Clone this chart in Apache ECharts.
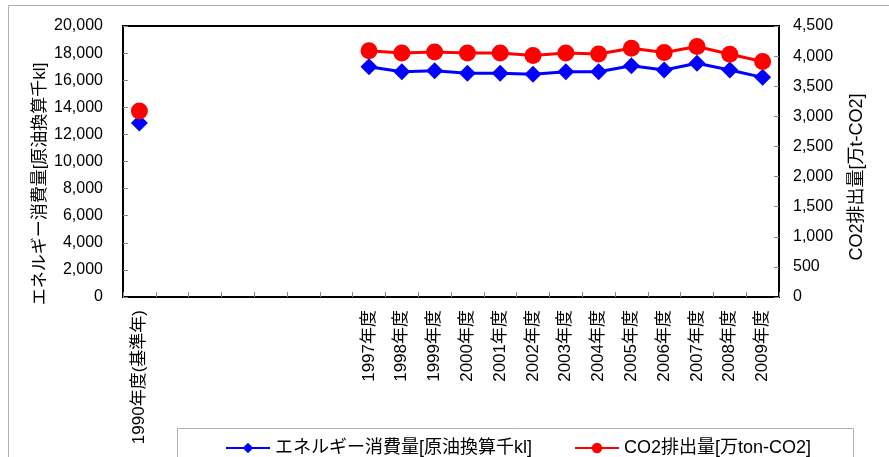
<!DOCTYPE html>
<html>
<head>
<meta charset="utf-8">
<script src="https://cdn.jsdelivr.net/npm/echarts@6/dist/echarts.min.js"></script>
<style>
  html, body { margin: 0; padding: 0; background: #fff; }
  #chart { width: 889px; height: 457px; }
</style>
</head>
<body>
<div id="chart"></div>
<script>
// Fiscal years (1991-1996 are blank slots on the axis)
const categories = [
  '1990年度(基準年)', '', '', '', '', '', '',
  '1997年度', '1998年度', '1999年度', '2000年度', '2001年度', '2002年度',
  '2003年度', '2004年度', '2005年度', '2006年度', '2007年度', '2008年度', '2009年度'
];

// Energy consumption [crude-oil equivalent, thousand kl]
const energyUse = [
  12850, null, null, null, null, null, null,
  17000, 16630, 16700, 16510, 16510, 16440,
  16630, 16630, 17070, 16750, 17250, 16750, 16210
];

// CO2 emissions [10,000 t-CO2]
const co2Emission = [
  3090, null, null, null, null, null, null,
  4090, 4050, 4070, 4050, 4050, 4010,
  4050, 4035, 4130, 4060, 4160, 4030, 3910
];

const seriesNames = ['エネルギー消費量[原油換算千kl]', 'CO2排出量[万ton-CO2]'];
const leftAxisTitle = 'エネルギー消費量[原油換算千kl]';
const rightAxisTitle = 'CO2排出量[万t-CO2]';

const FONT = '"Liberation Sans", "Noto Sans CJK JP", sans-serif';
const fmt = v => String(v).replace(/\B(?=(\d{3})+(?!\d))/g, ',');

const chart = echarts.init(document.getElementById('chart'), null, { renderer: 'canvas' });

chart.setOption({
  backgroundColor: '#ffffff',
  animation: false,
  textStyle: { fontFamily: FONT },
  grid: {
    left: 123, right: 110, top: 26, bottom: 160,
    show: true, borderColor: '#000', borderWidth: 2, backgroundColor: 'transparent'
  },
  legend: {
    data: seriesNames,
    left: 220, top: 434,
    itemWidth: 44, itemHeight: 13, itemGap: 42,
    textStyle: { fontFamily: FONT, fontSize: 18, color: '#000' }
  },
  xAxis: {
    type: 'category',
    data: categories,
    boundaryGap: true,
    axisLine: { show: true, lineStyle: { color: '#000', width: 2 } },
    axisTick: { show: true, inside: true, length: 5, interval: 0, lineStyle: { color: '#888' } },
    axisLabel: { interval: 0, rotate: 90, margin: 13, fontSize: 17, color: '#000', fontFamily: FONT },
    splitLine: { show: false }
  },
  yAxis: [
    {
      type: 'value', min: 0, max: 20000, interval: 2000,
      axisLine: { show: true, lineStyle: { color: '#000', width: 2 } },
      axisTick: { show: true, inside: true, length: 5, lineStyle: { color: '#888' } },
      axisLabel: { margin: 20, fontSize: 16, color: '#000', fontFamily: FONT, formatter: fmt },
      splitLine: { show: false }
    },
    {
      type: 'value', min: 0, max: 4500, interval: 500,
      position: 'right',
      axisLine: { show: true, lineStyle: { color: '#000', width: 2 } },
      axisTick: { show: true, inside: true, length: 5, lineStyle: { color: '#888' } },
      axisLabel: { margin: 14, fontSize: 16, color: '#000', fontFamily: FONT, formatter: fmt },
      splitLine: { show: false }
    }
  ],
  series: [
    {
      name: seriesNames[0],
      type: 'line',
      yAxisIndex: 0,
      data: energyUse,
      symbol: 'diamond',
      symbolSize: 17,
      showAllSymbol: true,
      connectNulls: false,
      itemStyle: { color: '#0000FF' },
      lineStyle: { color: '#0000FF', width: 3 },
      z: 2
    },
    {
      name: seriesNames[1],
      type: 'line',
      yAxisIndex: 1,
      data: co2Emission,
      symbol: 'circle',
      symbolSize: 17,
      showAllSymbol: true,
      connectNulls: false,
      itemStyle: { color: '#FF0000' },
      lineStyle: { color: '#FF0000', width: 3 },
      z: 3
    }
  ],
  graphic: [
    // outer chart frame
    {
      type: 'rect', silent: true, z: -1,
      shape: { x: 8.5, y: 5.5, width: 900, height: 500 },
      style: { fill: null, stroke: '#b0b0b0', lineWidth: 1 }
    },
    // legend frame
    {
      type: 'rect', silent: true, z: -1,
      shape: { x: 177.5, y: 428.5, width: 676, height: 40 },
      style: { fill: null, stroke: '#b0b0b0', lineWidth: 1 }
    },
    // left axis title
    {
      type: 'text', silent: true,
      x: 40, y: 184, rotation: Math.PI / 2,
      style: {
        text: leftAxisTitle, fontSize: 17, fontFamily: FONT, fill: '#000',
        align: 'center', verticalAlign: 'middle'
      }
    },
    // right axis title
    {
      type: 'text', silent: true,
      x: 857, y: 177, rotation: Math.PI / 2,
      style: {
        text: rightAxisTitle, fontSize: 18, fontFamily: FONT, fill: '#000',
        align: 'center', verticalAlign: 'middle'
      }
    }
  ]
});
</script>
</body>
</html>
